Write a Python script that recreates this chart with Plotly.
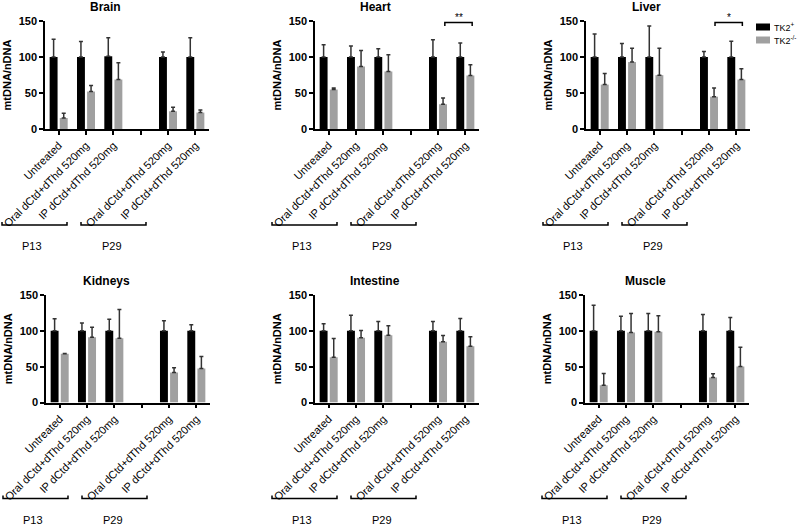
import plotly.graph_objects as go

W, H = 798, 525
FONT = "Arial, Liberation Sans, sans-serif"

tissues = ["Brain", "Heart", "Liver", "Kidneys", "Intestine", "Muscle"]
tick_labels = ["Untreated", "Oral dCtd+dThd 520mg", "IP dCtd+dThd 520mg", "",
               "Oral dCtd+dThd 520mg", "IP dCtd+dThd 520mg"]
group_pos = [0, 1, 2, 4, 5]
age_labels = ["P13", "P29"]
series_names = ["TK2<sup>+</sup>", "TK2<sup>-/-</sup>"]

# means and upward SD for TK2+ (wt) and TK2-/- (ko), per tissue
brain_wt = [100, 100, 101, 100, 100]
brain_wt_sd = [24.5, 21.7, 25.8, 6.8, 26.8]
brain_ko = [15.3, 52, 68.7, 24.6, 22.8]
brain_ko_sd = [6.5, 8.4, 23.3, 5.6, 3.7]

heart_wt = [100, 100, 100, 100, 100]
heart_wt_sd = [17, 15.2, 11.5, 24, 19.4]
heart_ko = [54.8, 86.8, 79.9, 34.4, 74.3]
heart_ko_sd = [2.3, 22.2, 23.1, 8.8, 14.9]

liver_wt = [100, 100, 100, 100, 100]
liver_wt_sd = [31.8, 18.7, 43, 7.5, 22]
liver_ko = [61.7, 93, 74.8, 44.9, 68.7]
liver_ko_sd = [15.3, 19, 37.2, 12.1, 14.9]

kidneys_wt = [100, 100, 100, 100, 100]
kidneys_wt_sd = [16.7, 11, 16.3, 14, 8.4]
kidneys_ko = [67.9, 91.2, 89.8, 41.9, 47.4]
kidneys_ko_sd = [0.5, 13.9, 40, 6.5, 16.8]

intestine_wt = [100, 100, 100, 100, 100]
intestine_wt_sd = [9.8, 21.9, 13, 13, 17.2]
intestine_ko = [63.3, 90.2, 94, 84.7, 78.6]
intestine_ko_sd = [26, 10.3, 13, 8.8, 13]

muscle_wt = [100, 100, 100, 100, 100]
muscle_wt_sd = [35.8, 20.5, 24.2, 22.8, 18.6]
muscle_ko = [24.2, 97.7, 98.6, 34.9, 50.2]
muscle_ko_sd = [16.3, 26.5, 22.4, 5.1, 27]

data = [
    (brain_wt, brain_wt_sd, brain_ko, brain_ko_sd),
    (heart_wt, heart_wt_sd, heart_ko, heart_ko_sd),
    (liver_wt, liver_wt_sd, liver_ko, liver_ko_sd),
    (kidneys_wt, kidneys_wt_sd, kidneys_ko, kidneys_ko_sd),
    (intestine_wt, intestine_wt_sd, intestine_ko, intestine_ko_sd),
    (muscle_wt, muscle_wt_sd, muscle_ko, muscle_ko_sd),
]

# significance marks: (panel index, from x, to x, text)
sig_marks = [(1, 4.25, 5.25, "**"), (2, 4.22, 5.22, "*")]

colors = ["#000000", "#a0a0a0"]

# layout geometry (pixels)
axis_left = [45, 315, 586, 46, 315, 585]
panel_w = 164
row_top = [21, 295]
row_bot = [129, 402.5]


def px(x):
    return x / W


def py(y):
    return 1 - y / H


fig = go.Figure()
shapes = []
annotations = []

for i, (tissue, (wt, wt_sd, ko, ko_sd)) in enumerate(zip(tissues, data)):
    row = i // 3
    n = "" if i == 0 else str(i + 1)
    xa, ya = "x" + n, "y" + n
    L = axis_left[i]
    for j, (vals, sds) in enumerate([(wt, wt_sd), (ko, ko_sd)]):
        fig.add_trace(go.Bar(
            x=group_pos, y=vals, xaxis=xa, yaxis=ya,
            width=0.29, offset=-0.33 if j == 0 else 0.04,
            marker=dict(color=colors[j], line=dict(width=0)),
            error_y=dict(type="data", array=sds, arrayminus=[0] * len(sds),
                         symmetric=False, color="#333333", thickness=1.5, width=2),
            name=series_names[j], legendgroup=str(j), showlegend=False,
        ))
    fig.layout["xaxis" + n] = dict(
        domain=[px(L), px(L + panel_w)], anchor=ya, range=[-0.5, 5.5],
        tickmode="array", tickvals=list(range(6)), ticktext=tick_labels,
        tickangle=-45, ticks="outside", ticklen=4, tickwidth=1.5, tickcolor="black",
        showline=True, linewidth=1.5, linecolor="black", showgrid=False, zeroline=False,
        tickfont=dict(family=FONT, size=11, color="black"), fixedrange=True,
        automargin=False,
    )
    fig.layout["yaxis" + n] = dict(
        domain=[py(row_bot[row]), py(row_top[row])], anchor=xa, range=[0, 150],
        tickmode="array", tickvals=[0, 50, 100, 150],
        ticks="outside", ticklen=4, tickwidth=1.5, tickcolor="black",
        showline=True, linewidth=1.5, linecolor="black", showgrid=False, zeroline=False,
        tickfont=dict(family=FONT, size=11, color="black", weight="bold"),
        title=dict(text="mtDNA/nDNA", standoff=5,
                   font=dict(family=FONT, size=11, color="black", weight="bold")),
        fixedrange=True, automargin=False,
    )
    # panel title
    annotations.append(dict(x=px(L + 60), y=py(7 if row == 0 else 281), xref="paper", yref="paper",
                            xanchor="center", yanchor="middle",
                            text="<b>%s</b>" % tissue, showarrow=False,
                            font=dict(family=FONT, size=12, color="black")))
    # age brackets
    B = row_bot[row] + 96
    T = row_bot[row] + 117
    for k, (a, b, lab) in enumerate([(-43, 22, -13), (36, 101, 67)]):
        x0, x1 = px(L + a), px(L + b)
        shapes.append(dict(type="path", xref="paper", yref="paper",
                           path="M %f,%f L %f,%f L %f,%f L %f,%f" % (
                               x0, py(B - 3), x0, py(B), x1, py(B), x1, py(B - 3)),
                           line=dict(color="black", width=1.5)))
        annotations.append(dict(x=px(L + lab), y=py(T), xref="paper", yref="paper",
                                xanchor="center", yanchor="middle",
                                text=age_labels[k], showarrow=False,
                                font=dict(family=FONT, size=11, color="black")))

for (p, x0, x1, txt) in sig_marks:
    n = "" if p == 0 else str(p + 1)
    shapes.append(dict(type="path", xref="x" + n, yref="y" + n,
                       path="M %f,%f L %f,%f L %f,%f L %f,%f" % (x0, 143, x0, 148, x1, 148, x1, 143),
                       line=dict(color="black", width=1.5)))
    annotations.append(dict(x=(x0 + x1) / 2, y=150, xref="x" + n, yref="y" + n,
                            text=txt, showarrow=False, yanchor="bottom", yshift=-4,
                            font=dict(family=FONT, size=10, color="black")))

# legend (drawn as key swatches + labels)
for j, name in enumerate(series_names):
    yc = 27 + 13 * j
    shapes.append(dict(type="rect", xref="paper", yref="paper",
                       x0=px(756), x1=px(770), y0=py(yc - 3.5), y1=py(yc + 3.5),
                       fillcolor=colors[j], line=dict(width=0)))
    annotations.append(dict(x=px(772), y=py(yc), xref="paper", yref="paper",
                            xanchor="left", yanchor="middle", text=name, showarrow=False,
                            font=dict(family=FONT, size=9, color="black")))

fig.update_layout(
    width=W, height=H, margin=dict(l=0, r=0, t=0, b=0, autoexpand=False),
    paper_bgcolor="white", plot_bgcolor="white",
    barmode="overlay", shapes=shapes, annotations=annotations,
    showlegend=False,
    font=dict(family=FONT),
)

fig.write_html("out.html", config={"displayModeBar": False},
               post_script="document.body.style.margin='0';document.body.style.overflow='hidden';")
